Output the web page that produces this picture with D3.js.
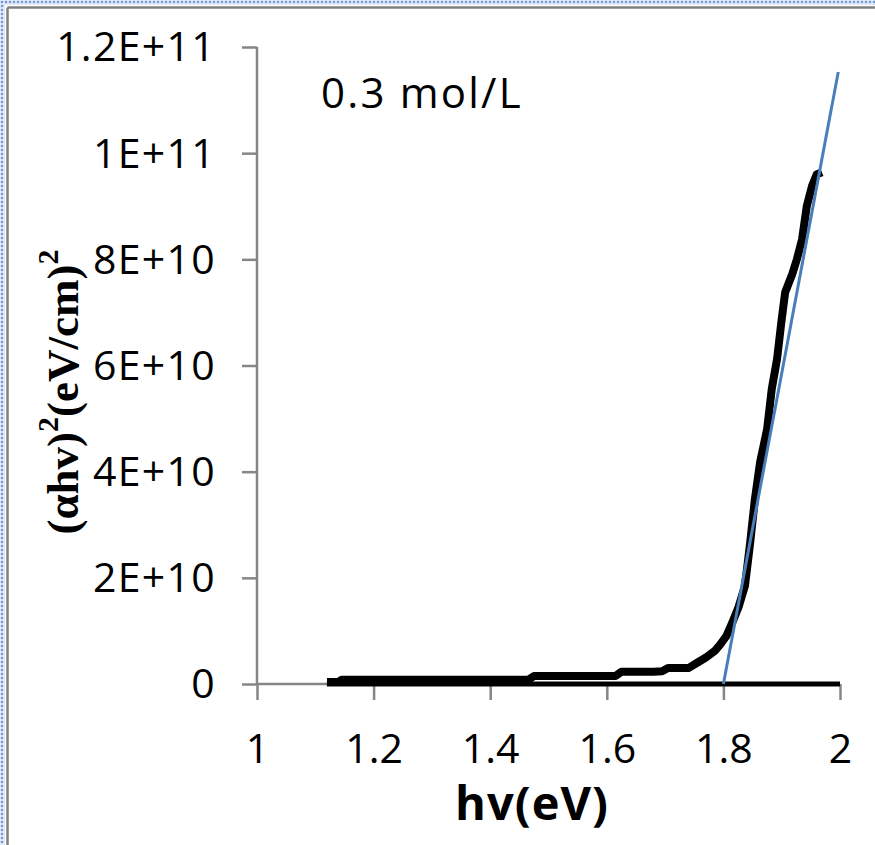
<!DOCTYPE html>
<html><head><meta charset="utf-8">
<script src="https://cdn.jsdelivr.net/npm/d3@7"></script>
<style>
html,body{margin:0;padding:0;background:#fff;}
svg{display:block;}
</style></head>
<body>
<script>
// ---- data ----
const hv = [1.12, 1.14, 1.145, 1.20, 1.30, 1.40, 1.465, 1.475, 1.55, 1.615, 1.625, 1.68, 1.695, 1.705, 1.74, 1.755, 1.77, 1.785, 1.795, 1.805, 1.815, 1.826, 1.837, 1.846, 1.854, 1.863, 1.875, 1.883, 1.892, 1.90, 1.906, 1.918, 1.926, 1.935, 1.943, 1.952, 1.96, 1.969];
const absorb = [0.4e9, 0.4e9, 0.8e9, 0.8e9, 0.8e9, 0.8e9, 0.8e9, 1.5e9, 1.5e9, 1.5e9, 2.3e9, 2.3e9, 2.4e9, 3.0e9, 3.0e9, 4.0e9, 5.0e9, 6.2e9, 7.5e9, 9.0e9, 1.15e10, 1.45e10, 1.85e10, 2.67e10, 3.48e10, 4.18e10, 4.8e10, 5.56e10, 6.12e10, 6.87e10, 7.38e10, 7.72e10, 8.0e10, 8.38e10, 9.0e10, 9.38e10, 9.6e10, 9.64e10];
const baselineHv = [1.12, 2.0];
const baselineVal = [0, 0];
const fitHv = [1.80, 1.997];
const fitVal = [0, 1.153e11];
const xTicks = [1, 1.2, 1.4, 1.6, 1.8, 2];
const xTickLabels = ["1", "1.2", "1.4", "1.6", "1.8", "2"];
const yTicks = [0, 2e10, 4e10, 6e10, 8e10, 1e11, 1.2e11];
const yTickLabels = ["0", "2E+10", "4E+10", "6E+10", "8E+10", "1E+11", "1.2E+11"];
const annotation = "0.3 mol/L";
const xTitle = "hv(eV)";

const W = 875, H = 845;
const svg = d3.select("body").append("svg").attr("width", W).attr("height", H);

// frame: dotted blue border + gray line (top & left)
const defs = svg.append("defs");
const pat = defs.append("pattern").attr("id", "dots").attr("width", 4).attr("height", 4).attr("patternUnits", "userSpaceOnUse");
pat.append("rect").attr("width", 4).attr("height", 4).attr("fill", "#e4ecf7");
pat.append("circle").attr("cx", 2).attr("cy", 2).attr("r", 1.3).attr("fill", "#6f9ad6");
svg.append("rect").attr("x", 0).attr("y", 0).attr("width", W).attr("height", 5).attr("fill", "url(#dots)");
svg.append("rect").attr("x", 0).attr("y", 0).attr("width", 5).attr("height", H).attr("fill", "url(#dots)");
svg.append("line").attr("x1", 7.5).attr("x2", W).attr("y1", 7.5).attr("y2", 7.5).attr("stroke", "#7f7f7f").attr("stroke-width", 2.5);
svg.append("line").attr("x1", 7.5).attr("x2", 7.5).attr("y1", 7.5).attr("y2", H).attr("stroke", "#7f7f7f").attr("stroke-width", 2.5);

const x = d3.scaleLinear().domain([1, 2]).range([257, 840]);
const y = d3.scaleLinear().domain([0, 1.2e11]).range([684, 47]);

const axisColor = "#868686";
const font = "'Open Sans', sans-serif";

// y axis
const ya = svg.append("g").attr("transform", "translate(257,0)")
  .call(d3.axisLeft(y).tickValues(yTicks).tickSize(15).tickFormat((d, i) => yTickLabels[i]));
ya.select(".domain").attr("stroke", axisColor).attr("stroke-width", 2.5).attr("d", `M0,${y(0)}V${y(1.2e11)}`);
ya.selectAll(".tick line").attr("stroke", axisColor).attr("stroke-width", 2.5);
ya.selectAll(".tick text").attr("font-family", font).attr("font-size", 41).attr("letter-spacing", 1.3).attr("fill", "#000")
  .attr("x", -41).attr("dy", "0.34em");

// x axis
const xa = svg.append("g").attr("transform", `translate(0,${y(0)})`)
  .call(d3.axisBottom(x).tickValues(xTicks).tickSize(16).tickFormat((d, i) => xTickLabels[i]));
xa.select(".domain").attr("stroke", axisColor).attr("stroke-width", 2.5).attr("d", `M${x(1)},0H${x(2)}`);
xa.selectAll(".tick line").attr("stroke", axisColor).attr("stroke-width", 2.5);
xa.selectAll(".tick text").attr("font-family", font).attr("font-size", 41).attr("fill", "#000")
  .attr("y", 50).attr("dy", "0.71em");

const line = d3.line().x(d => x(d[0])).y(d => y(d[1]));

// zero baseline series
svg.append("path").datum(d3.zip(baselineHv, baselineVal)).attr("d", line)
  .attr("fill", "none").attr("stroke", "#000").attr("stroke-width", 5);

// data series
svg.append("path").datum(d3.zip(hv, absorb)).attr("d", line)
  .attr("fill", "none").attr("stroke", "#000").attr("stroke-width", 8).attr("stroke-linejoin", "round");

// fit line
svg.append("path").datum(d3.zip(fitHv, fitVal)).attr("d", line)
  .attr("fill", "none").attr("stroke", "#4a7ebb").attr("stroke-width", 3);

// annotation
svg.append("text").attr("x", 321).attr("y", 108).attr("font-family", font).attr("font-size", 42).attr("letter-spacing", 2.2).attr("fill", "#000").text(annotation);

// x title
svg.append("text").attr("x", 532).attr("y", 820).attr("text-anchor", "middle").attr("font-family", font)
  .attr("font-weight", "bold").attr("font-size", 47).attr("letter-spacing", 1).attr("fill", "#000").text(xTitle);

// y title
const yt = svg.append("text").attr("transform", "translate(78,392) rotate(-90)").attr("text-anchor", "middle")
  .attr("font-family", "'Liberation Serif', 'Times New Roman', serif").attr("font-weight", "bold").attr("font-size", 45).attr("fill", "#000");
yt.append("tspan").text("(\u03b1hv)");
yt.append("tspan").attr("font-size", 30).attr("dy", -20).text("2");
yt.append("tspan").attr("dy", 20).text("(eV/cm)");
yt.append("tspan").attr("font-size", 30).attr("dy", -20).text("2");
</script>
</body></html>
